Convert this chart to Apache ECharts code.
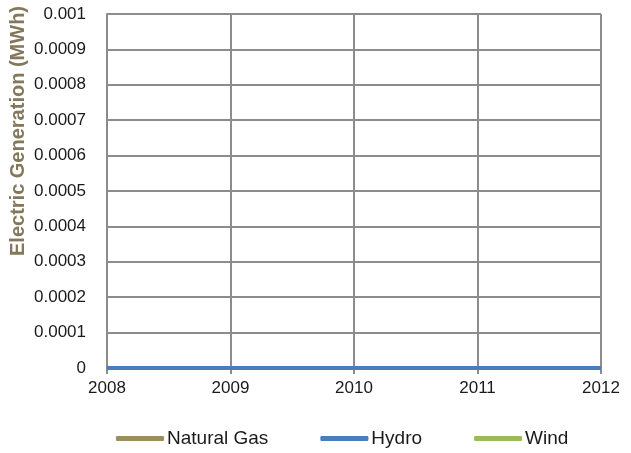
<!DOCTYPE html>
<html>
<head>
<meta charset="utf-8">
<script src="https://cdn.jsdelivr.net/npm/echarts@6/dist/echarts.min.js"></script>
<style>
  html, body { margin: 0; padding: 0; background: #ffffff; }
  #chart { width: 631px; height: 453px; }
</style>
</head>
<body>
<div id="chart"></div>
<script>
// Years on the horizontal axis
const years = [2008, 2009, 2010, 2011, 2012];

// Electric generation per source (MWh)
const naturalGas = [0, 0, 0, 0, 0];
const hydro = [0, 0, 0, 0, 0];
const wind = [0, 0, 0, 0, 0];

// Vertical axis tick labels, one per 0.0001 step
const yTickLabels = ['0', '0.0001', '0.0002', '0.0003', '0.0004', '0.0005',
                     '0.0006', '0.0007', '0.0008', '0.0009', '0.001'];

const gridGray = '#8c8c8c';
const labelFont = { color: '#1a1a1a', fontSize: 17, fontFamily: 'Liberation Sans, Arial, sans-serif' };

function pairs(values) {
  return years.map((y, i) => [y, values[i]]);
}

const chart = echarts.init(document.getElementById('chart'), null, { renderer: 'canvas' });

chart.setOption({
  animation: false,
  backgroundColor: '#ffffff',
  grid: { left: 107, right: 30, top: 14, bottom: 85 },
  xAxis: {
    type: 'value',
    min: years[0],
    max: years[years.length - 1],
    interval: 1,
    axisLine: { show: true, lineStyle: { color: gridGray, width: 2 } },
    axisTick: { show: true, length: 6, lineStyle: { color: gridGray, width: 2 } },
    splitLine: { show: true, lineStyle: { color: gridGray, width: 2 } },
    axisLabel: Object.assign({ margin: 12, formatter: v => String(v) }, labelFont)
  },
  yAxis: {
    type: 'value',
    min: 0,
    max: 0.001,
    interval: 0.0001,
    axisLine: { show: true, lineStyle: { color: gridGray, width: 2 } },
    axisTick: { show: false },
    splitLine: { show: true, lineStyle: { color: gridGray, width: 2 } },
    axisLabel: Object.assign({
      margin: 21,
      formatter: v => yTickLabels[Math.round(v / 0.0001)]
    }, labelFont)
  },
  legend: {
    bottom: 0,
    left: 111,
    itemWidth: 48,
    itemHeight: 5,
    itemGap: 52,
    icon: 'roundRect',
    textStyle: Object.assign({}, labelFont, { fontSize: 19, padding: [0, 0, 0, -2] }),
    data: ['Natural Gas', 'Hydro', 'Wind']
  },
  graphic: [{
    type: 'text',
    x: 18,
    y: 131,
    rotation: Math.PI / 2,
    style: {
      text: 'Electric Generation (MWh)',
      fill: '#84785a',
      font: 'bold 20px "Liberation Sans", Arial, sans-serif',
      align: 'center',
      verticalAlign: 'middle'
    }
  }],
  series: [
    {
      name: 'Natural Gas', type: 'line', data: pairs(naturalGas),
      showSymbol: false, z: 2,
      itemStyle: { color: '#9a8d5e' },
      lineStyle: { color: '#9a8d5e', width: 4 }
    },
    {
      name: 'Wind', type: 'line', data: pairs(wind),
      showSymbol: false, z: 3,
      itemStyle: { color: '#9bbb59' },
      lineStyle: { color: '#9bbb59', width: 4 }
    },
    {
      name: 'Hydro', type: 'line', data: pairs(hydro),
      showSymbol: false, z: 4,
      itemStyle: { color: '#4a7ebb' },
      lineStyle: { color: '#4a7ebb', width: 4 }
    }
  ]
});
</script>
</body>
</html>
